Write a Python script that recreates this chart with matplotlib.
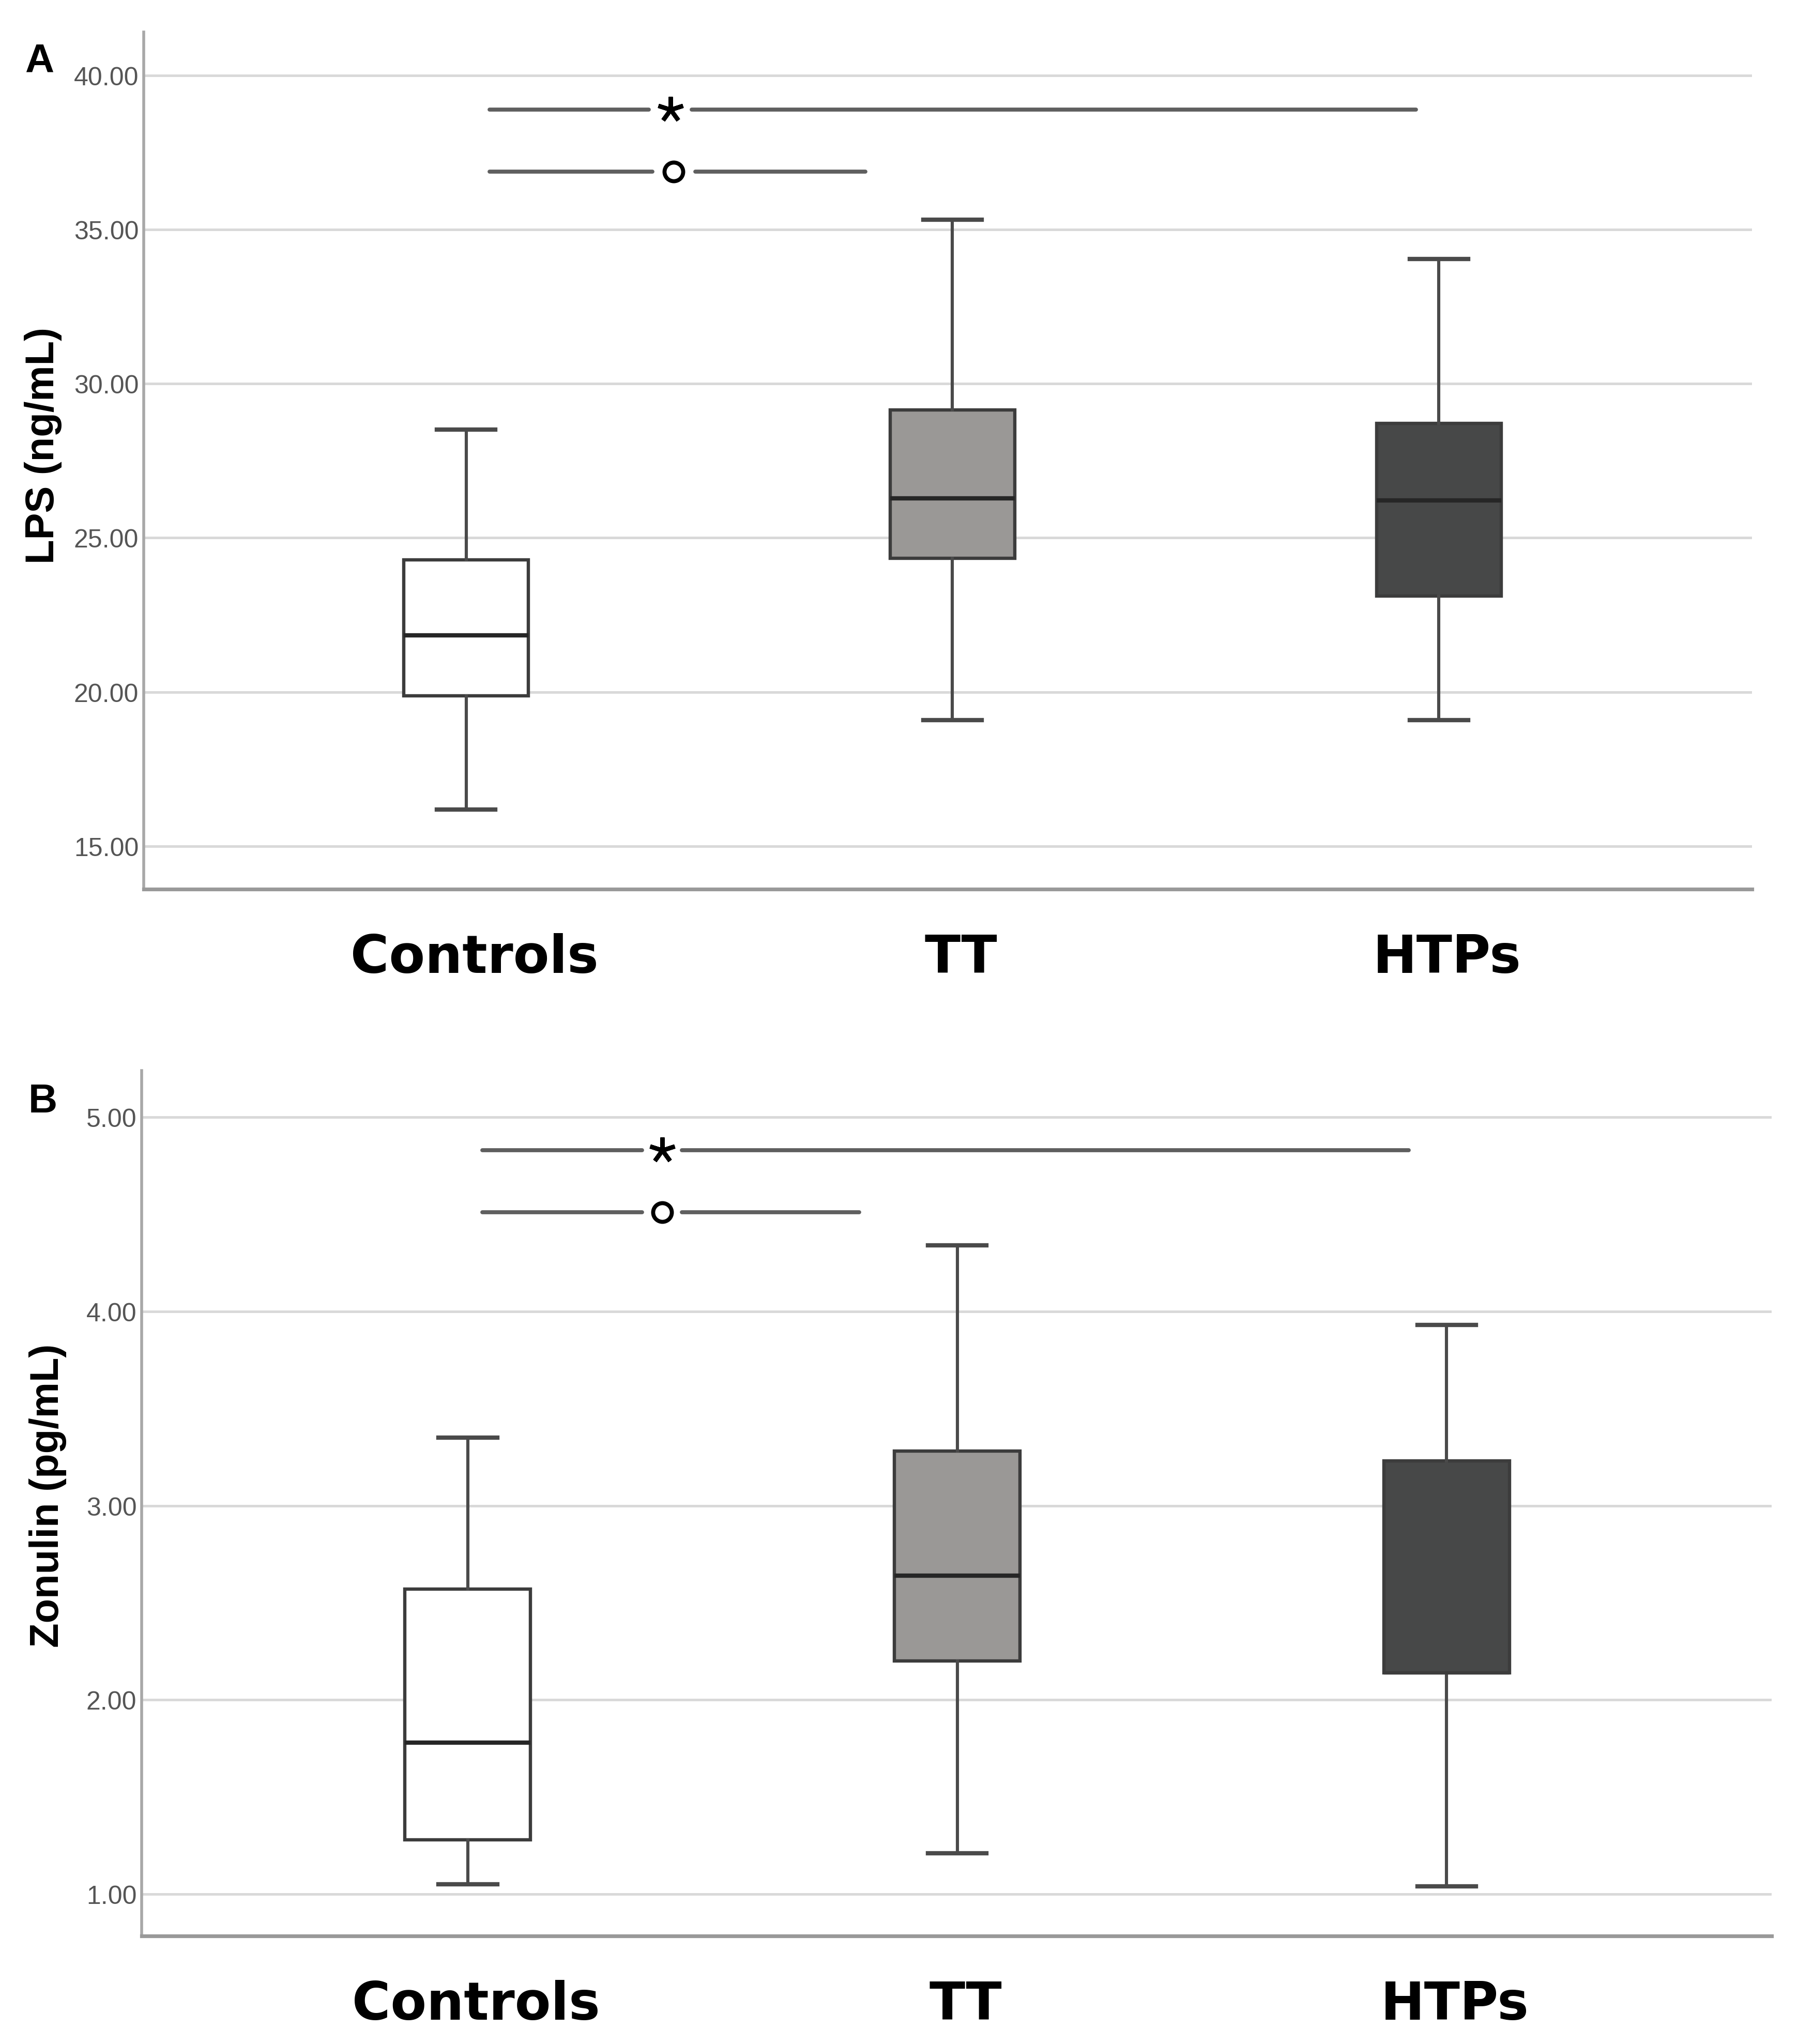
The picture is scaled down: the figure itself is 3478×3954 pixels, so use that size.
import matplotlib
matplotlib.use("Agg")
import matplotlib.pyplot as plt
import matplotlib.transforms as mtransforms

# groups and box statistics
groups = ["Controls", "TT", "HTPs"]
box_colors = ["#ffffff", "#9a9896", "#474848"]

# panel A: LPS (ng/mL)
lps_low = [16.19, 19.08, 19.08]
lps_q1 = [19.88, 24.34, 23.12]
lps_med = [21.84, 26.28, 26.21]
lps_q3 = [24.29, 29.15, 28.72]
lps_high = [28.51, 35.32, 34.04]
lps_ticks = [15, 20, 25, 30, 35, 40]

# panel B: Zonulin (pg/mL)
zon_low = [1.05, 1.21, 1.04]
zon_q1 = [1.28, 2.20, 2.14]
zon_med = [1.78, 2.64, 2.14]
zon_q3 = [2.57, 3.28, 3.23]
zon_high = [3.35, 4.34, 3.93]
zon_ticks = [1, 2, 3, 4, 5]

# significance bars: (from group, to group, y, end offset, symbol, symbol x offset)
lps_sig = [(0, 2, 38.90, -0.047, "*", 0.42), (0, 1, 36.88, -0.179, "o", 0.427)]
zon_sig = [(0, 2, 4.83, -0.078, "*", 0.397), (0, 1, 4.51, -0.20, "o", 0.397)]

fig = plt.figure(figsize=(3478 / 200, 3955 / 200), dpi=200)
tick_font = ["Liberation Sans", "DejaVu Sans"]
label_shift = mtransforms.ScaledTranslation(0.08, 0, fig.dpi_scale_trans)


def panel(rect, low, q1, med, q3, high, ticks, ylim, xlim, sig, start_off, gap):
    ax = fig.add_axes(rect)
    pos = [1, 2, 3]
    stats = []
    for i in range(3):
        stats.append({"whislo": low[i], "q1": q1[i], "med": med[i],
                      "q3": q3[i], "whishi": high[i], "label": groups[i]})
    bp = ax.bxp(stats, positions=pos, widths=0.256, capwidths=0.12,
                patch_artist=True, showfliers=False,
                boxprops=dict(edgecolor="#3c3c3c", linewidth=2.3),
                whiskerprops=dict(color="#4a4a4a", linewidth=2.2),
                capprops=dict(color="#4a4a4a", linewidth=3.0),
                medianprops=dict(color="#262626", linewidth=3.0))
    for patch, c in zip(bp["boxes"], box_colors):
        patch.set_facecolor(c)
        patch.set_zorder(3)
    for k in ("whiskers", "caps", "medians"):
        for ln in bp[k]:
            ln.set_zorder(4)
    # the HTPs zonulin median sits on the lower box edge
    if med[2] == q1[2]:
        bp["medians"][2].set_color("#3c3c3c")
        bp["medians"][2].set_linewidth(2.3)

    ax.set_xlim(*xlim)
    ax.set_ylim(*ylim)
    ax.set_yticks(ticks)
    ax.set_yticklabels(["%.2f" % t for t in ticks], family=tick_font,
                       fontsize=18, color="#555555")
    ax.yaxis.grid(True, color="#d9d9d9", linewidth=1.8, zorder=0)
    ax.set_axisbelow(True)
    ax.tick_params(axis="y", length=0, pad=3.5)
    ax.tick_params(axis="x", length=0, pad=30)
    ax.set_xticks(pos)
    ax.set_xticklabels(groups, fontsize=36.5, fontweight="bold",
                       family="DejaVu Sans", color="black")
    for lab in ax.get_xticklabels():
        lab.set_transform(lab.get_transform() + label_shift)
    for s in ("top", "right"):
        ax.spines[s].set_visible(False)
    ax.spines["left"].set_color("#a8a8a8")
    ax.spines["left"].set_linewidth(2.0)
    ax.spines["bottom"].set_color("#999999")
    ax.spines["bottom"].set_linewidth(2.6)

    for g0, g1, y, end_off, sym, sx in sig:
        x0 = pos[g0] + start_off
        x1 = pos[g1] + end_off
        xm = pos[g0] + sx
        ax.plot([x0, xm - gap], [y, y], color="#5f5f5f", linewidth=2.8,
                solid_capstyle="round")
        ax.plot([xm + gap, x1], [y, y], color="#5f5f5f", linewidth=2.8,
                solid_capstyle="round")
        if sym == "*":
            ax.plot([xm], [y], marker=(5, 2, 0), markersize=18,
                    markeredgewidth=3.0, color="black", linestyle="none")
        else:
            ax.plot([xm], [y], marker="o", markersize=13, markerfacecolor="white",
                    markeredgecolor="black", markeredgewidth=2.8, linestyle="none")
    return ax


axA = panel([0.0799, 0.5648, 0.8945, 0.4193], lps_low, lps_q1, lps_med, lps_q3,
            lps_high, lps_ticks, (13.60, 41.41), (0.337, 3.644), lps_sig, 0.048, 0.044)
axB = panel([0.0788, 0.0528, 0.9066, 0.4233], zon_low, zon_q1, zon_med, zon_q3,
            zon_high, zon_ticks, (0.784, 5.24), (0.334, 3.664), zon_sig, 0.030, 0.041)

fig.text(0.0219, 0.970, "A", ha="center", va="center", fontsize=28,
         fontweight="bold", family=tick_font)
fig.text(0.0239, 0.461, "B", ha="center", va="center", fontsize=28,
         fontweight="bold", family=tick_font)
fig.text(0.024, 0.782, "LPS (ng/mL)", rotation=90, ha="center", va="center",
         fontsize=28, fontweight="bold", family=tick_font)
fig.text(0.0267, 0.2685, "Zonulin (pg/mL)", rotation=90, ha="center", va="center",
         fontsize=28, fontweight="bold", family=tick_font)

fig.savefig("out.png", dpi=200, facecolor="white")
